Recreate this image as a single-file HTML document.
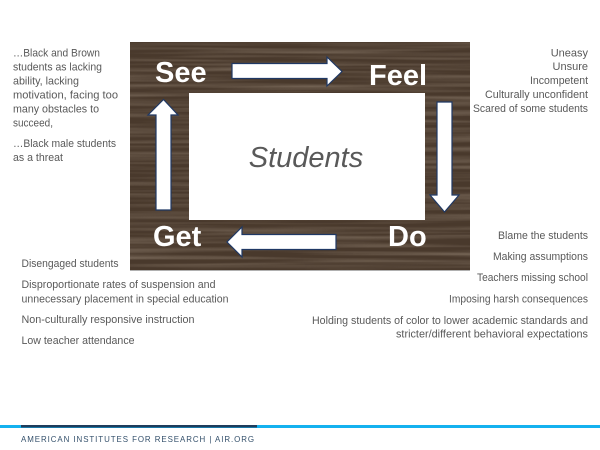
<!DOCTYPE html>
<html>
<head>
<meta charset="utf-8">
<style>
  html, body { margin: 0; padding: 0; background: #ffffff; }
  body { width: 600px; height: 450px; overflow: hidden; }
  svg { display: block; }
  .t { font-family: "Liberation Sans", Arial, sans-serif; font-size: 11px; fill: #595959; }
  .lbl { font-family: "Liberation Sans", Arial, sans-serif; font-size: 29px; font-weight: bold; fill: #ffffff; }
</style>
</head>
<body>
<svg width="600" height="450" viewBox="0 0 600 450" xmlns="http://www.w3.org/2000/svg">
  <defs>
    <filter id="wood" x="0" y="0" width="100%" height="100%">
      <feTurbulence type="fractalNoise" baseFrequency="0.005 0.25" numOctaves="2" seed="7"/>
      <feColorMatrix type="matrix" values="0 0 0 0 0.50  0 0 0 0 0.41  0 0 0 0 0.32  0.7 0 0 0 -0.26"/>
    </filter>
  </defs>

  <!-- wood board -->
  <rect x="130" y="42" width="340" height="228" fill="#49392c"/>
  <rect x="130" y="42" width="340" height="228" filter="url(#wood)"/>
  <line x1="130" y1="270.5" x2="470" y2="270.5" stroke="#b0b0b0" stroke-width="1"/>

  <!-- inner white panel -->
  <rect x="189" y="93" width="236" height="127" fill="#ffffff"/>
  <text x="306" y="167" text-anchor="middle" style="font-family:'Liberation Sans',Arial,sans-serif;font-size:29px;font-style:italic;fill:#595959;">Students</text>

  <!-- arrows -->
  <g fill="#ffffff" stroke="#1f3864" stroke-width="1.2" stroke-linejoin="miter">
    <polygon points="232,63.5 327,63.5 327,57 342,71.5 327,86 327,78.5 232,78.5"/>
    <polygon points="437,102 452,102 452,195 459,195 444.5,212 430,195 437,195"/>
    <polygon points="336,234.5 336,249.5 242,249.5 242,257 227,242 242,227 242,234.5"/>
    <polygon points="156,210 171,210 171,115 178,115 163.5,99.5 148,115 156,115"/>
  </g>

  <!-- labels -->
  <text class="lbl" x="155" y="82">See</text>
  <text class="lbl" x="369" y="85">Feel</text>
  <text class="lbl" x="153" y="246">Get</text>
  <text class="lbl" x="388" y="246">Do</text>

  <!-- left-top text -->
  <text class="t" x="13" y="56.5" textLength="87" lengthAdjust="spacingAndGlyphs">…Black and Brown</text>
  <text class="t" x="13" y="70.5" textLength="89" lengthAdjust="spacingAndGlyphs">students as lacking</text>
  <text class="t" x="13" y="84.5" textLength="66" lengthAdjust="spacingAndGlyphs">ability, lacking</text>
  <text class="t" x="13" y="98.5" textLength="105" lengthAdjust="spacingAndGlyphs">motivation, facing too</text>
  <text class="t" x="13" y="112.5" textLength="86" lengthAdjust="spacingAndGlyphs">many obstacles to</text>
  <text class="t" x="13" y="126.5" textLength="40" lengthAdjust="spacingAndGlyphs">succeed,</text>
  <text class="t" x="13" y="147" textLength="103" lengthAdjust="spacingAndGlyphs">…Black male students</text>
  <text class="t" x="13" y="161" textLength="50" lengthAdjust="spacingAndGlyphs">as a threat</text>

  <!-- right-top text -->
  <text class="t" x="588" y="56.5" text-anchor="end">Uneasy</text>
  <text class="t" x="588" y="70" text-anchor="end">Unsure</text>
  <text class="t" x="530" y="84" textLength="58" lengthAdjust="spacingAndGlyphs">Incompetent</text>
  <text class="t" x="485" y="98" textLength="103" lengthAdjust="spacingAndGlyphs">Culturally unconfident</text>
  <text class="t" x="473" y="112" textLength="115" lengthAdjust="spacingAndGlyphs">Scared of some students</text>

  <!-- right-bottom text -->
  <text class="t" x="498" y="239" textLength="90" lengthAdjust="spacingAndGlyphs">Blame the students</text>
  <text class="t" x="493" y="260" textLength="95" lengthAdjust="spacingAndGlyphs">Making assumptions</text>
  <text class="t" x="477" y="281" textLength="111" lengthAdjust="spacingAndGlyphs">Teachers missing school</text>
  <text class="t" x="449" y="302.5" textLength="139" lengthAdjust="spacingAndGlyphs">Imposing harsh consequences</text>
  <text class="t" x="312" y="324" textLength="276" lengthAdjust="spacingAndGlyphs">Holding students of color to lower academic standards and</text>
  <text class="t" x="396" y="337.5" textLength="192" lengthAdjust="spacingAndGlyphs">stricter/different behavioral expectations</text>

  <!-- left-bottom text -->
  <text class="t" x="21.5" y="267" textLength="97" lengthAdjust="spacingAndGlyphs">Disengaged students</text>
  <text class="t" x="21.5" y="288" textLength="194" lengthAdjust="spacingAndGlyphs">Disproportionate rates of suspension and</text>
  <text class="t" x="21.5" y="302.5" textLength="207" lengthAdjust="spacingAndGlyphs">unnecessary placement in special education</text>
  <text class="t" x="21.5" y="323" textLength="173" lengthAdjust="spacingAndGlyphs">Non-culturally responsive instruction</text>
  <text class="t" x="21.5" y="344" textLength="113" lengthAdjust="spacingAndGlyphs">Low teacher attendance</text>

  <!-- footer -->
  <rect x="0" y="425" width="600" height="3" fill="#14b1ef"/>
  <rect x="21" y="425" width="236" height="2.5" fill="#1f3d5c"/>
  <text x="21" y="442" textLength="234" lengthAdjust="spacingAndGlyphs" style="font-family:'Liberation Sans',Arial,sans-serif;font-size:8.5px;fill:#34506b;letter-spacing:1px;">AMERICAN INSTITUTES FOR RESEARCH | AIR.ORG</text>
</svg>
</body>
</html>
